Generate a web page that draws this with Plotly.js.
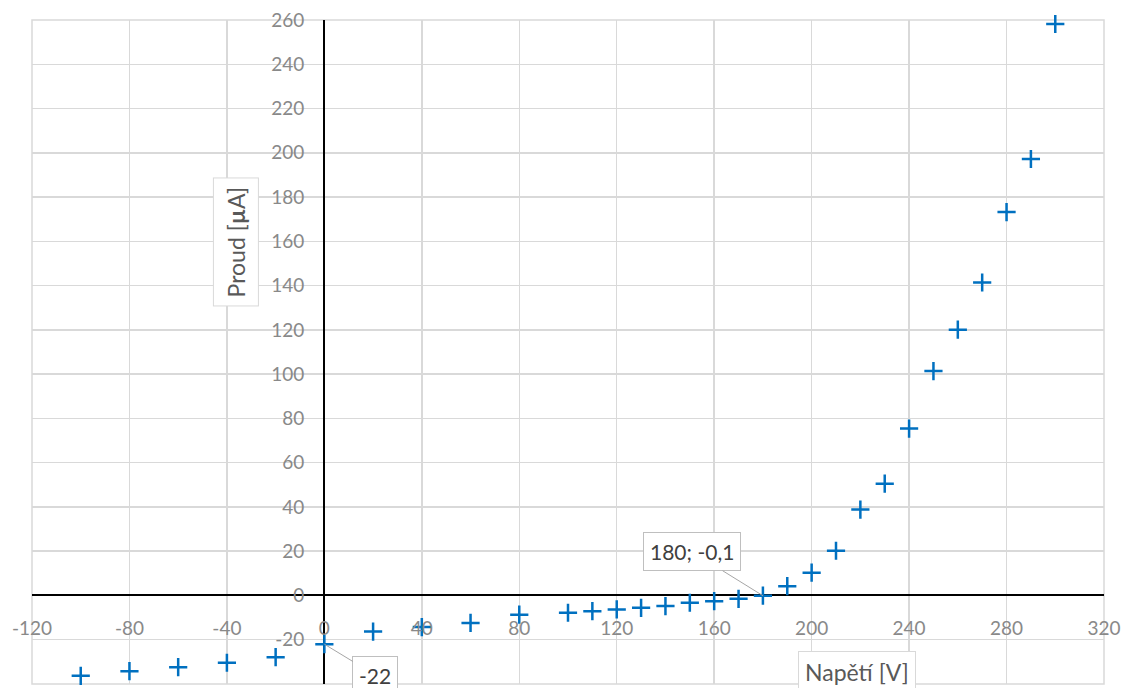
<!DOCTYPE html>
<html>
<head>
<meta charset="utf-8">
<script src="https://cdn.plot.ly/plotly-3.0.1.min.js"></script>
<style>html,body{margin:0;padding:0;background:#fff;}#chart{width:1128px;height:688px;}</style>
</head>
<body>
<div id="chart"></div>
<script>
// Napětí [V]
const voltage = [-100, -80, -60, -40, -20, 0, 20, 40, 60, 80, 100, 110, 120, 130, 140, 150, 160, 170, 180, 190, 200, 210, 220, 230, 240, 250, 260, 270, 280, 290, 300];
// Proud [µA]
const current = [-36.3, -34.2, -32.4, -30.4, -27.9, -22, -16.3, -14.3, -12.4, -8.7, -7.8, -7.1, -6.3, -5.6, -4.8, -3.3, -2.6, -1.5, -0.1, 4.2, 10.3, 20.2, 38.8, 50.5, 75.4, 101.4, 120.1, 141.4, 173.2, 197.2, 258.2];

const xRange = [-120, 320];
const yRange = [-40, 260];
const xTicks = [-120, -80, -40, 0, 40, 80, 120, 160, 200, 240, 280, 320];
const yTicks = [-40, -20, 0, 20, 40, 60, 80, 100, 120, 140, 160, 180, 200, 220, 240, 260];

const xTitle = 'Napětí [V]';
const yTitle = 'Proud [<b>µ</b>A]';
const labelPoints = [
  {x: 0, y: -22, text: '-22', ax: 51, ay: 31},
  {x: 180, y: -0.1, text: '180; -0,1', ax: -71, ay: -44}
];

const trace = {
  x: voltage, y: current, type: 'scatter', mode: 'markers',
  marker: {symbol: 'cross-thin', size: 13, line: {color: '#0070C0', width: 2.5}, color: '#0070C0'},
  hoverinfo: 'skip', cliponaxis: false
};

const tickFont = {family: 'Lato, sans-serif', size: 19, color: '#898989'};
const xPos = (0 - xRange[0]) / (xRange[1] - xRange[0]);
const yPos = (0 - yRange[0]) / (yRange[1] - yRange[0]);

const annotations = labelPoints.map(p => ({
  x: p.x, y: p.y, xref: 'x', yref: 'y', text: p.text, showarrow: true,
  arrowhead: 0, arrowwidth: 1, arrowcolor: '#a6a6a6', ax: p.ax, ay: p.ay,
  bgcolor: '#ffffff', bordercolor: '#bfbfbf', borderwidth: 1, borderpad: 6,
  font: {family: 'Lato, sans-serif', size: 21, color: '#404040'}
}));
annotations.push({
  x: 0.190, y: 0.666, xref: 'paper', yref: 'paper', xanchor: 'center', yanchor: 'middle',
  text: yTitle, textangle: -90,
  showarrow: false, bgcolor: '#ffffff', bordercolor: '#d9d9d9', borderwidth: 1, borderpad: 8,
  font: {family: 'Lato, sans-serif', size: 23, color: '#595959'}
});
annotations.push({
  x: 0.770, y: 0.018, xref: 'paper', yref: 'paper', xanchor: 'center', yanchor: 'middle',
  text: xTitle,
  showarrow: false, bgcolor: '#ffffff', bordercolor: '#d9d9d9', borderwidth: 1, borderpad: 6,
  font: {family: 'Lato, sans-serif', size: 23, color: '#595959'}
});

const layout = {
  width: 1128, height: 688,
  margin: {l: 32, r: 24, t: 20, b: 4},
  paper_bgcolor: '#ffffff', plot_bgcolor: '#ffffff',
  showlegend: false,
  xaxis: {
    range: xRange, tickvals: xTicks, ticktext: xTicks.map(String),
    anchor: 'free', position: yPos, showline: false,
    showgrid: true, gridcolor: '#d9d9d9', gridwidth: 1.5,
    zeroline: true, zerolinecolor: '#000000', zerolinewidth: 2,
    ticks: '', ticklabelstandoff: 20, tickfont: tickFont, fixedrange: true
  },
  yaxis: {
    range: yRange, tickvals: yTicks, ticktext: yTicks.map(String),
    anchor: 'free', position: xPos, showline: false,
    showgrid: true, gridcolor: '#d9d9d9', gridwidth: 1.5,
    zeroline: true, zerolinecolor: '#000000', zerolinewidth: 2,
    ticks: '', ticklabelstandoff: 20, tickfont: tickFont, fixedrange: true
  },
  shapes: [{type: 'rect', xref: 'paper', yref: 'paper', x0: 0, x1: 1, y0: 0, y1: 1,
    line: {color: '#d9d9d9', width: 1.5}, layer: 'below'}],
  annotations: annotations
};

Plotly.newPlot('chart', [trace], layout, {staticPlot: true, displayModeBar: false});
</script>
</body>
</html>
